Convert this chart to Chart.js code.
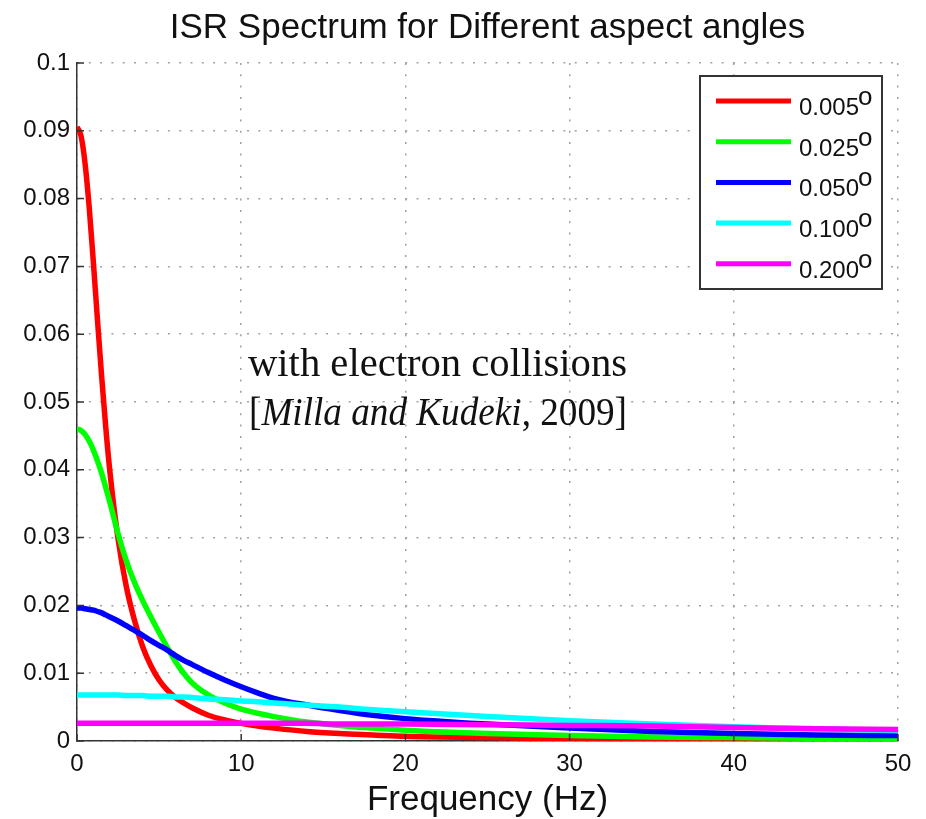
<!DOCTYPE html>
<html>
<head>
<meta charset="utf-8">
<script src="https://cdn.jsdelivr.net/npm/chart.js@4"></script>
<style>
  html, body { margin: 0; padding: 0; background: #fff; }
  #wrap { width: 926px; height: 819px; }
</style>
</head>
<body>
<div id="wrap"><canvas id="isrChart" width="926" height="819"></canvas></div>
<script>
// --- data ---
const freq = [0, 0.25, 0.5, 0.75, 1, 1.25, 1.5, 1.75, 2, 2.5, 3, 3.5, 4, 4.5, 5, 5.5, 6, 6.5, 7, 8, 9, 10, 11, 12, 14, 16, 18, 20, 25, 30, 35, 40, 45, 50];

const angle005 = [0.0906, 0.0892, 0.0850, 0.0785, 0.0705, 0.0620, 0.0538, 0.0463, 0.0398, 0.0298, 0.0228, 0.0178, 0.0139, 0.0111, 0.0090, 0.0075, 0.0064, 0.0056, 0.0049, 0.0038, 0.0031, 0.0026, 0.0022, 0.0019, 0.0014, 0.0011, 0.0009, 0.0007, 0.0005, 0.0003, 0.0002, 0.0002, 0.0001, 0.0001];
const angle025 = [0.0460, 0.0458, 0.0452, 0.0442, 0.0429, 0.0413, 0.0395, 0.0374, 0.0352, 0.0306, 0.0266, 0.0234, 0.0207, 0.0183, 0.0160, 0.0138, 0.0117, 0.0100, 0.0086, 0.0068, 0.0056, 0.0047, 0.0041, 0.0036, 0.0028, 0.0023, 0.0019, 0.0016, 0.0011, 0.0008, 0.0006, 0.0005, 0.0004, 0.0003];
const angle050 = [0.0196, 0.0196, 0.0195, 0.0194, 0.0193, 0.0191, 0.0189, 0.0186, 0.0183, 0.0177, 0.0170, 0.0163, 0.0156, 0.0148, 0.0141, 0.0134, 0.0126, 0.0119, 0.0113, 0.0101, 0.0090, 0.0080, 0.0071, 0.0063, 0.0053, 0.0045, 0.0038, 0.0033, 0.0025, 0.0019, 0.0014, 0.0011, 0.0009, 0.0008];
const angle100 = [0.0068, 0.0068, 0.0068, 0.0068, 0.0068, 0.0068, 0.0068, 0.0068, 0.0068, 0.0068, 0.0067, 0.0067, 0.0067, 0.0066, 0.0066, 0.0066, 0.0065, 0.0065, 0.0064, 0.0062, 0.0061, 0.0059, 0.0058, 0.0056, 0.0053, 0.0050, 0.0046, 0.0043, 0.0036, 0.0030, 0.0025, 0.0021, 0.0018, 0.0015];
const angle200 = [0.0026, 0.0026, 0.0026, 0.0026, 0.0026, 0.0026, 0.0026, 0.0026, 0.0026, 0.0026, 0.0026, 0.0026, 0.0026, 0.0026, 0.0026, 0.0026, 0.0026, 0.0026, 0.0026, 0.0026, 0.0026, 0.0026, 0.0026, 0.0026, 0.0026, 0.0025, 0.0025, 0.0025, 0.0024, 0.0023, 0.0022, 0.0020, 0.0018, 0.0017];

const seriesLabels = ['0.005', '0.025', '0.050', '0.100', '0.200'];
const seriesColors = ['#ff0000', '#00ff00', '#0000ff', '#00ffff', '#ff00ff'];
const seriesValues = [angle005, angle025, angle050, angle100, angle200];

const xTicks = [0, 10, 20, 30, 40, 50];
const yTicks = [0, 0.01, 0.02, 0.03, 0.04, 0.05, 0.06, 0.07, 0.08, 0.09, 0.1];
const yTickLabels = ['0', '0.01', '0.02', '0.03', '0.04', '0.05', '0.06', '0.07', '0.08', '0.09', '0.1'];

const SANS = '"Liberation Sans", Arial, Helvetica, sans-serif';
const SERIF = '"Liberation Serif", "Times New Roman", serif';

// inward tick marks on left and bottom axes
const innerTicks = {
    id: 'innerTicks',
    afterDraw(chart) {
        const { ctx, chartArea } = chart;
        const xs = chart.scales.x, ys = chart.scales.y;
        ctx.save();
        ctx.strokeStyle = '#333';
        ctx.lineWidth = 1.5;
        ctx.beginPath();
        yTicks.forEach(v => {
            const y = ys.getPixelForValue(v);
            ctx.moveTo(chartArea.left, y);
            ctx.lineTo(chartArea.left + 7, y);
        });
        xTicks.forEach(v => {
            const x = xs.getPixelForValue(v);
            ctx.moveTo(x, chartArea.bottom);
            ctx.lineTo(x, chartArea.bottom - 7);
        });
        ctx.stroke();
        ctx.restore();
    }
};

// legend box inside the plot, top right
const boxLegend = {
    id: 'boxLegend',
    afterDraw(chart) {
        const { ctx, chartArea } = chart;
        const left = chartArea.right - 198, top = chartArea.top + 13;
        const w = 182, h = 213;
        ctx.save();
        ctx.fillStyle = '#fff';
        ctx.fillRect(left, top, w, h);
        ctx.strokeStyle = '#333';
        ctx.lineWidth = 2;
        ctx.strokeRect(left, top, w, h);
        chart.data.datasets.forEach((ds, i) => {
            const y = top + 25 + i * 40.7;
            ctx.strokeStyle = ds.borderColor;
            ctx.lineWidth = 5;
            ctx.beginPath();
            ctx.moveTo(left + 16, y);
            ctx.lineTo(left + 91, y);
            ctx.stroke();
            ctx.fillStyle = '#111';
            ctx.textBaseline = 'alphabetic';
            ctx.font = '24px ' + SANS;
            ctx.fillText(ds.label, left + 99, y + 14);
            const tw = ctx.measureText(ds.label).width;
            ctx.font = '26px ' + SANS;
            ctx.fillText('o', left + 98 + tw, y + 4);
        });
        ctx.restore();
    }
};

// serif note in the middle of the plot
const citation = {
    id: 'citation',
    afterDraw(chart) {
        const { ctx } = chart;
        ctx.save();
        ctx.fillStyle = '#111';
        ctx.textBaseline = 'alphabetic';
        ctx.font = '40px ' + SERIF;
        const line1 = 'with electron collisions';
        const w1 = ctx.measureText(line1).width;
        ctx.save();
        ctx.translate(248, 376);
        ctx.scale(379 / w1, 1);
        ctx.fillText(line1, 0, 0);
        ctx.restore();

        const parts = [['[', ''], ['Milla and Kudeki', 'italic '], [', 2009]', '']];
        let total = 0;
        parts.forEach(([t, style]) => {
            ctx.font = style + '40px ' + SERIF;
            total += ctx.measureText(t).width;
        });
        ctx.translate(249, 425);
        ctx.scale(378 / total, 1);
        let x = 0;
        parts.forEach(([t, style]) => {
            ctx.font = style + '40px ' + SERIF;
            ctx.fillText(t, x, 0);
            x += ctx.measureText(t).width;
        });
        ctx.restore();
    }
};

const datasets = seriesValues.map((vals, i) => ({
    label: seriesLabels[i],
    data: freq.map((f, j) => ({ x: f, y: vals[j] })),
    borderColor: seriesColors[i],
    backgroundColor: seriesColors[i],
    borderWidth: 5.5,
    pointRadius: 0,
    fill: false,
    cubicInterpolationMode: 'monotone',
    order: seriesValues.length - i
}));

new Chart(document.getElementById('isrChart'), {
    type: 'line',
    data: { datasets },
    options: {
        responsive: false,
        animation: false,
        layout: { padding: { left: 0, right: 28, top: 0, bottom: 0 } },
        plugins: {
            legend: { display: false },
            tooltip: { enabled: false },
            title: {
                display: true,
                fullSize: false,
                text: 'ISR Spectrum for Different aspect angles',
                color: '#111',
                font: { family: SANS, size: 35, weight: 'normal' },
                padding: { top: 7, bottom: 14 }
            }
        },
        scales: {
            x: {
                type: 'linear',
                min: 0,
                max: 50,
                afterBuildTicks: s => { s.ticks = xTicks.map(v => ({ value: v })); },
                afterFit: s => { s.height = 78; },
                ticks: {
                    color: '#111',
                    font: { family: SANS, size: 24 },
                    padding: 9,
                    maxRotation: 0,
                    callback: v => String(v)
                },
                grid: { color: '#a0a0a0', lineWidth: 1.5, drawTicks: false },
                border: { display: true, color: '#333', width: 1.5, dash: [2, 9.3] },
                title: {
                    display: true,
                    text: 'Frequency (Hz)',
                    color: '#111',
                    font: { family: SANS, size: 35, lineHeight: 1.05 },
                    padding: { top: 0, bottom: 0 }
                }
            },
            y: {
                type: 'linear',
                min: 0,
                max: 0.1,
                afterBuildTicks: s => { s.ticks = yTicks.map(v => ({ value: v })); },
                afterFit: s => { s.width = 77; },
                ticks: {
                    color: '#111',
                    font: { family: SANS, size: 24 },
                    padding: 7,
                    callback: (v, i) => yTickLabels[i]
                },
                grid: { color: '#a0a0a0', lineWidth: 1.5, drawTicks: false },
                border: { display: true, color: '#333', width: 1.5, dash: [2, 9.3] }
            }
        }
    },
    plugins: [innerTicks, boxLegend, citation]
});
</script>
</body>
</html>
